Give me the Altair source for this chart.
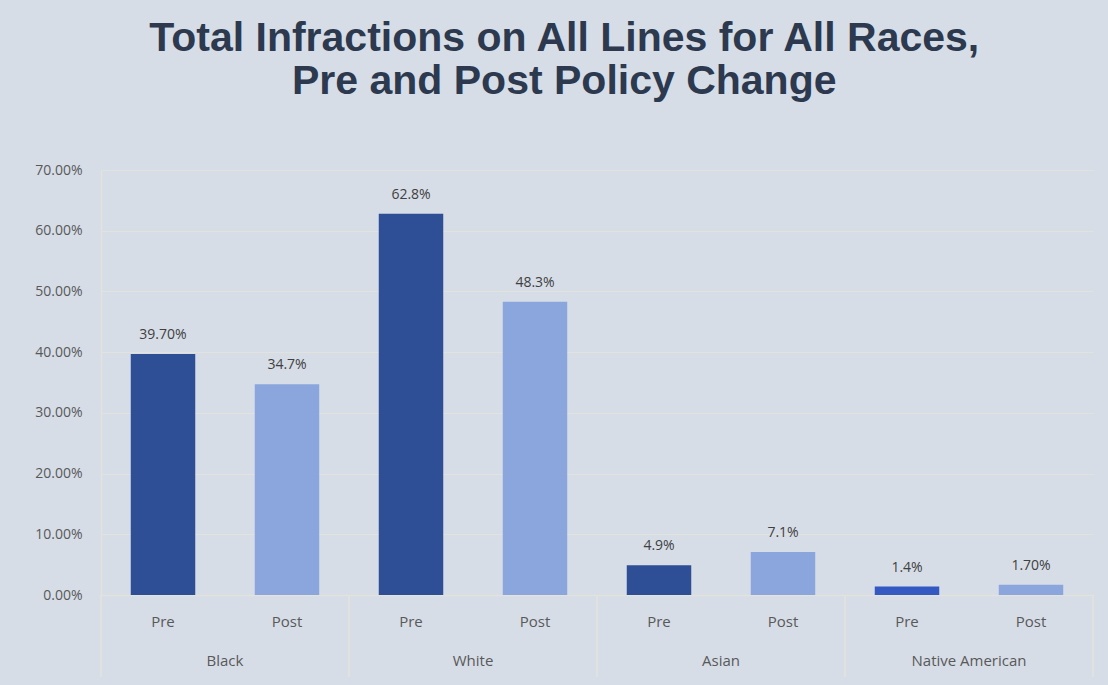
import altair as alt
import pandas as pd

# Infraction shares (%) by race, before and after the policy change
races = ["Black", "Black", "White", "White", "Asian", "Asian", "Native American", "Native American"]
periods = ["Pre", "Post", "Pre", "Post", "Pre", "Post", "Pre", "Post"]
shares = [39.7, 34.7, 62.8, 48.3, 4.9, 7.1, 1.4, 1.7]
label_decimals = [2, 1, 1, 1, 1, 1, 1, 2]
bar_colors = ["#2E4E96", "#8BA6DC", "#2E4E96", "#8BA6DC",
              "#2E4E96", "#8BA6DC", "#3459C2", "#8BA6DC"]

race_order = ["Black", "White", "Asian", "Native American"]
period_order = ["Pre", "Post"]
y_ticks = [0, 10, 20, 30, 40, 50, 60, 70]

df = pd.DataFrame({
    "race": races,
    "period": periods,
    "share": shares,
    "color": bar_colors,
})
df["label"] = [f"{v:.{d}f}%" for v, d in zip(shares, label_decimals)]
bounds = pd.DataFrame({"race": race_order})

BG = "#D6DDE7"
GRID = "#E3E3DE"
AXIS_TXT = "#595959"
W, H = 992, 425

x_race = alt.X(
    "race:N",
    sort=race_order,
    scale=alt.Scale(paddingInner=0, paddingOuter=0),
    axis=alt.Axis(
        title=None, labelAngle=0, ticks=False, domain=True, domainColor=GRID,
        domainWidth=1.5, labelPadding=58, labelFontSize=15, labelColor=AXIS_TXT,
        labelFont="Open Sans",
    ),
)
x_off = alt.XOffset(
    "period:N", sort=period_order,
    scale=alt.Scale(paddingInner=0.48, paddingOuter=0.24),
)

bars = alt.Chart(df).mark_bar().encode(
    x=x_race,
    xOffset=x_off,
    y=alt.Y(
        "share:Q",
        scale=alt.Scale(domain=[0, 70], nice=False),
        axis=alt.Axis(
            title=None, values=y_ticks, labelExpr="format(datum.value / 100, '.2%')",
            ticks=False, domainColor=GRID, domainWidth=1.5, gridColor=GRID,
            gridWidth=1.2, labelPadding=19, labelFontSize=14, labelColor=AXIS_TXT,
            labelFont="Open Sans",
        ),
    ),
    color=alt.Color("color:N", scale=None),
)

values = alt.Chart(df).mark_text(
    baseline="bottom", dy=-12, fontSize=14, color="#404040", font="Open Sans",
).encode(
    x=alt.X("race:N", sort=race_order),
    xOffset=x_off,
    y="share:Q",
    text="label:N",
)

period_labels = alt.Chart(df).mark_text(
    baseline="middle", fontSize=15, color=AXIS_TXT, font="Open Sans",
).encode(
    x=alt.X("race:N", sort=race_order),
    xOffset=x_off,
    y=alt.value(H + 27),
    text="period:N",
)

# group separators below the baseline
separators = alt.Chart(bounds).mark_rule(color=GRID, strokeWidth=1.5).encode(
    x=alt.X("race:N", sort=race_order, bandPosition=0),
    y=alt.value(H),
    y2=alt.value(H + 82),
)
last_sep = alt.Chart(bounds.head(1)).mark_rule(color=GRID, strokeWidth=1.5).encode(
    x=alt.value(W), y=alt.value(H), y2=alt.value(H + 82),
)

chart = alt.layer(bars, values, period_labels, separators, last_sep).properties(
    width=W,
    height=H,
    background=BG,
    padding={"left": 101, "top": 170, "right": 15, "bottom": 90},
    autosize=alt.AutoSizeParams(type="none"),
    title=alt.TitleParams(
        ["Total Infractions on All Lines for All Races,", "Pre and Post Policy Change"],
        anchor="middle", frame="bounds", fontSize=41, fontWeight="bold",
        font="Liberation Sans Narrow, Liberation Sans", color="#2C394E",
        lineHeight=43, offset=60,
    ),
).configure_view(stroke=None)

chart.save("out.html", embed_options={"renderer": "svg", "actions": False})
